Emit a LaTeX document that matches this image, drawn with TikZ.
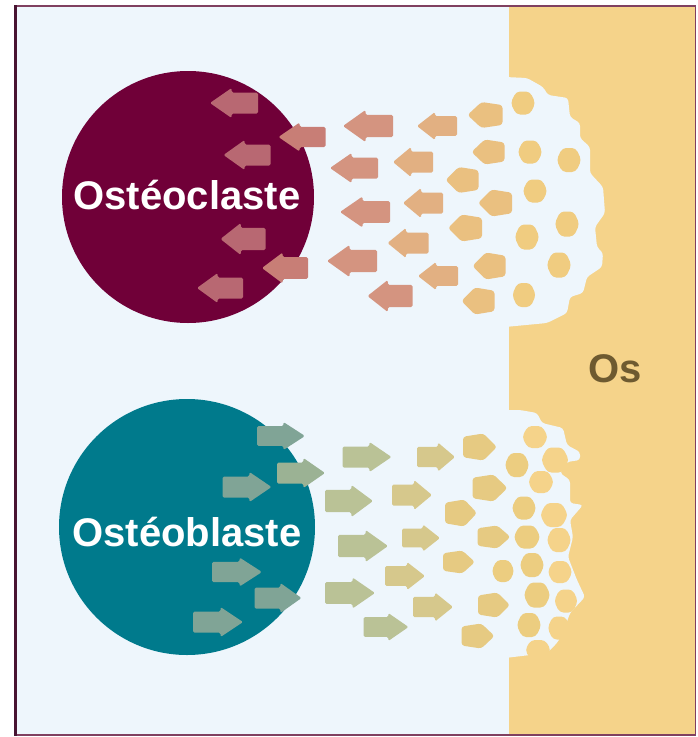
\documentclass[tikz,border=0pt]{standalone}
\usepackage{fontspec}
\setmainfont{Liberation Sans}
\usetikzlibrary{calc}

% palette
\definecolor{bgblue}{RGB}{238,246,252}
\definecolor{bone}{RGB}{245,211,138}
\definecolor{clastc}{RGB}{112,0,56}
\definecolor{blastc}{RGB}{0,122,140}
\definecolor{framec}{RGB}{128,64,96}
\definecolor{framel}{RGB}{72,20,50}
\definecolor{ostext}{RGB}{110,90,48}
% resorption particles, from the cell outwards
\definecolor{cA}{RGB}{184,104,114}
\definecolor{cB}{RGB}{200,126,118}
\definecolor{cC}{RGB}{212,148,128}
\definecolor{cD}{RGB}{226,176,130}
\definecolor{cE}{RGB}{234,192,128}
\definecolor{cF}{RGB}{240,204,128}
% formation particles, from the cell outwards
\definecolor{bA}{RGB}{128,164,150}
\definecolor{bB}{RGB}{155,178,148}
\definecolor{bC}{RGB}{186,194,150}
\definecolor{bD}{RGB}{214,200,140}
\definecolor{bE}{RGB}{230,202,130}
\definecolor{bF}{RGB}{236,205,128}

% arrow pointing left: centre x, centre y, length, height, colour
\newcommand\lArrow[5]{\fill[#5,shift={(#1,#2)},rounded corners=1.5pt]
  ({-0.5*#3},0) -- ({-0.05*#3},{-0.5*#4}) -- ({-0.05*#3},{-0.35*#4})
  -- ({0.5*#3},{-0.35*#4}) -- ({0.5*#3},{0.35*#4}) -- ({-0.05*#3},{0.35*#4})
  -- ({-0.05*#3},{0.5*#4}) -- cycle;}
% arrow pointing right
\newcommand\rArrow[5]{\fill[#5,shift={(#1,#2)},xscale=-1,rounded corners=1.5pt]
  ({-0.5*#3},0) -- ({-0.05*#3},{-0.5*#4}) -- ({-0.05*#3},{-0.35*#4})
  -- ({0.5*#3},{-0.35*#4}) -- ({0.5*#3},{0.35*#4}) -- ({-0.05*#3},{0.35*#4})
  -- ({-0.05*#3},{0.5*#4}) -- cycle;}
% blunt pentagon pointing left / right
\newcommand\lPenta[5]{\fill[#5,shift={(#1,#2)},rounded corners=3pt]
  ({-0.5*#3},0) -- ({-0.1*#3},{-0.5*#4}) -- ({0.5*#3},{-0.38*#4})
  -- ({0.5*#3},{0.38*#4}) -- ({-0.1*#3},{0.5*#4}) -- cycle;}
\newcommand\rPenta[5]{\fill[#5,shift={(#1,#2)},xscale=-1,rounded corners=3pt]
  ({-0.5*#3},0) -- ({-0.1*#3},{-0.5*#4}) -- ({0.5*#3},{-0.38*#4})
  -- ({0.5*#3},{0.38*#4}) -- ({-0.1*#3},{0.5*#4}) -- cycle;}
% rounded hexagonal bone particle
\newcommand\hBlob[5]{\fill[#5,shift={(#1,#2)},rounded corners=4pt]
  ({-0.5*#3},0) -- ({-0.27*#3},{-0.5*#4}) -- ({0.27*#3},{-0.5*#4})
  -- ({0.5*#3},0) -- ({0.27*#3},{0.5*#4}) -- ({-0.27*#3},{0.5*#4}) -- cycle;}

\tikzset{
  cellbody/.style={circle, inner sep=0pt},
  celllabel/.style={anchor=base, text=white, font=\fontsize{40}{44}\selectfont\bfseries},
}

\begin{document}
\begin{tikzpicture}[x=1pt,y=-1pt]
\useasboundingbox (0,0) rectangle (697,737);
\fill[white] (0,0) rectangle (697,737);
\fill[bgblue] (15,7) rectangle (695,734);

% bone
\fill[bone] (509,7) rectangle (695,734);
% resorption pit
\fill[bgblue, rounded corners=3pt] (505,77) -- (527,78) -- (543,87) -- (548,95)
  -- (568,98) -- (570,117) -- (580,123) -- (580,138) -- (590,147) -- (590,173)
  -- (603,187) -- (605,213) -- (595,227) -- (597,247) -- (603,253) -- (602,267)
  -- (587,277) -- (583,293) -- (570,297) -- (567,313) -- (547,323) -- (505,327) -- cycle;
% formation front
\fill[bgblue, rounded corners=3pt] (505,410) -- (520,410) -- (537,413) -- (542,423)
  -- (563,428) -- (567,445) -- (580,452) -- (580,460) -- (567,462) -- (560,473)
  -- (570,480) -- (570,503) -- (583,505) -- (570,520) -- (573,537) -- (568,557)
  -- (577,580) -- (585,597) -- (570,613) -- (563,633) -- (557,643) -- (547,653)
  -- (505,658) -- cycle;
% new bone being laid down
\hBlob{535}{437}{26}{22}{bone}
\hBlob{555}{460}{28}{25}{bone}
\hBlob{541}{482}{26}{22}{bone}
\hBlob{554}{515}{28}{24}{bone}
\hBlob{559}{540}{25}{24}{bone}
\hBlob{560}{572}{25}{22}{bone}
\hBlob{566}{601}{24}{23}{bone}
\hBlob{559}{628}{23}{23}{bone}
\hBlob{538}{650}{26}{20}{bone}

% cells
\node[cellbody, fill=clastc, minimum size=252pt] (clast) at (188,197) {};
\node[cellbody, fill=blastc, minimum size=256pt] (blast) at (187,527) {};

% resorption: particles travel from bone into the osteoclast
\lArrow{234}{103}{48}{30}{cA}
\lArrow{247}{155}{47}{30}{cA}
\lArrow{243}{239}{45}{32}{cA}
\lArrow{220}{288}{46}{30}{cA}
\lArrow{302}{137}{47}{29}{cB}
\lArrow{285}{268}{46}{31}{cB}
\lArrow{368}{126}{50}{32}{cC}
\lArrow{354}{168}{48}{30}{cC}
\lArrow{365}{212}{50}{31}{cC}
\lArrow{352}{261}{50}{32}{cC}
\lArrow{390}{296}{45}{32}{cC}
\lArrow{437}{126}{40}{28}{cD}
\lArrow{413}{162}{40}{30}{cD}
\lArrow{423}{203}{40}{30}{cD}
\lArrow{408}{243}{41}{30}{cD}
\lArrow{438}{276}{40}{28}{cD}
\lPenta{485}{115}{35}{26}{cE}
\lPenta{488}{152}{33}{25}{cE}
\lPenta{462}{180}{33}{26}{cE}
\lPenta{495}{203}{34}{27}{cE}
\lPenta{465}{228}{34}{27}{cE}
\lPenta{489}{266}{33}{27}{cE}
\lPenta{478}{301}{33}{27}{cE}
\hBlob{523}{103}{25}{23}{cF}
\hBlob{530}{152}{25}{23}{cF}
\hBlob{569}{160}{25}{24}{cF}
\hBlob{535}{191}{25}{23}{cF}
\hBlob{567}{224}{25}{25}{cF}
\hBlob{527}{237}{25}{25}{cF}
\hBlob{559}{265}{25}{25}{cF}
\hBlob{524}{295}{24}{24}{cF}

% formation: particles travel from the osteoblast to the bone
\rArrow{281}{436}{48}{28}{bA}
\rArrow{247}{487}{49}{30}{bA}
\rArrow{237}{572}{50}{29}{bA}
\rArrow{278}{598}{47}{30}{bA}
\rArrow{218}{622}{50}{30}{bA}
\rArrow{301}{473}{48}{30}{bB}
\rArrow{367}{457}{49}{30}{bC}
\rArrow{349}{501}{48}{32}{bC}
\rArrow{363}{546}{50}{32}{bC}
\rArrow{350}{593}{50}{31}{bC}
\rArrow{386}{627}{45}{28}{bC}
\rArrow{436}{457}{38}{29}{bD}
\rArrow{412}{495}{40}{30}{bD}
\rArrow{421}{538}{38}{27}{bD}
\rArrow{405}{576}{40}{28}{bD}
\rArrow{433}{607}{40}{29}{bD}
\rPenta{480}{447}{34}{27}{bE}
\rPenta{490}{488}{35}{27}{bE}
\rPenta{461}{513}{32}{27}{bE}
\rPenta{494}{537}{33}{23}{bE}
\rPenta{459}{562}{32}{23}{bE}
\rPenta{494}{605}{32}{25}{bE}
\rPenta{478}{636}{33}{25}{bE}
\hBlob{503}{571}{23}{22}{bF}
\hBlob{517}{465}{25}{24}{bF}
\hBlob{524}{508}{25}{23}{bF}
\hBlob{527}{537}{27}{23}{bF}
\hBlob{532}{565}{25}{24}{bF}
\hBlob{537}{595}{27}{25}{bF}
\hBlob{529}{625}{25}{24}{bF}

% labels
\node[celllabel] (clastlabel) at (187,209) {Ostéoclaste};
\node[celllabel] (blastlabel) at (187,546) {Ostéoblaste};
\node[celllabel, text=ostext] (bonelabel) at (615,382) {Os};

% frame
\draw[framec, line width=2pt] (15,6) -- (696,6);
\draw[framec, line width=2pt] (15,735) -- (696,735);
\draw[framec, line width=1.5pt] (695.5,6) -- (695.5,735);
\draw[framel, line width=3pt] (15.5,5) -- (15.5,736);
\end{tikzpicture}
\end{document}
